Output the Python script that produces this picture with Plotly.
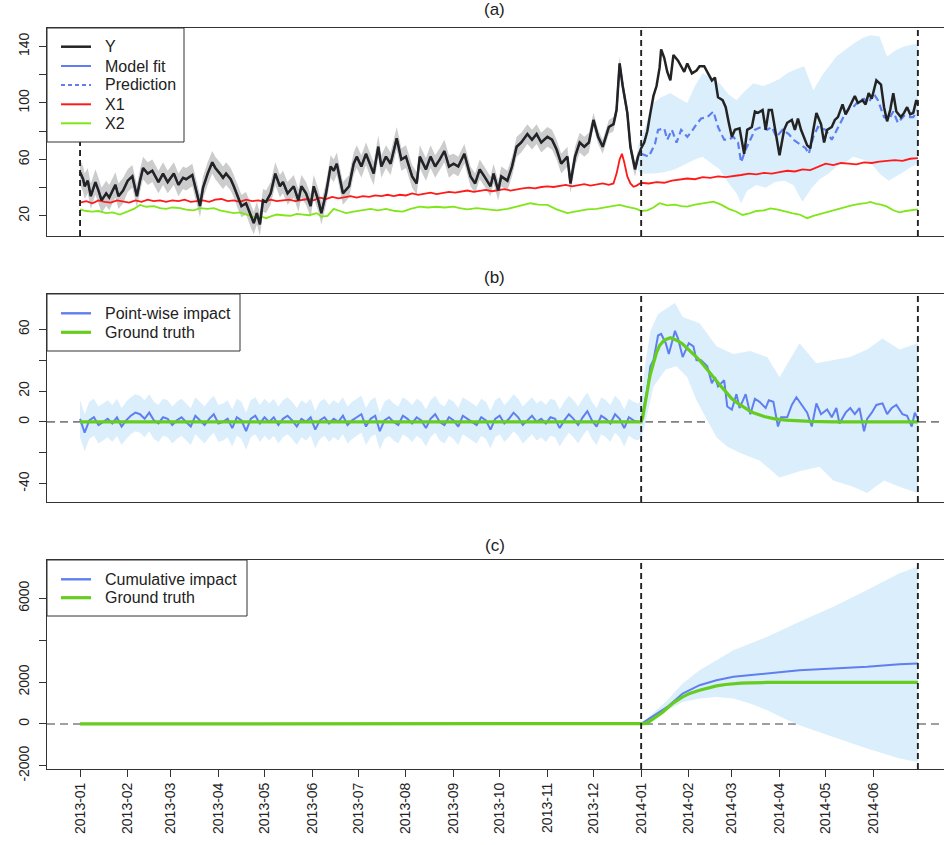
import pandas as pd
import plotly.graph_objects as go

START = pd.Timestamp("2013-01-01")


def to_dates(days):
    return [START + pd.Timedelta(days=float(v)) for v in days]


# ---------------- panel (a) ----------------
y_days = [0, 2, 3, 5, 7, 10, 12, 14, 17, 19,
          23, 25, 28, 31, 34, 37, 39, 41, 44, 47,
          51, 54, 57, 61, 64, 67, 69, 73, 76, 78,
          80, 83, 86, 88, 91, 93, 95, 98, 100, 103,
          105, 108, 111, 113, 115, 117, 119, 121, 124, 127,
          130, 132, 135, 139, 142, 144, 147, 150, 152, 155,
          157, 160, 163, 165, 167, 171, 175, 178, 180, 183,
          186, 189, 191, 194, 196, 199, 202, 206, 209, 212,
          216, 219, 221, 225, 228, 231, 234, 237, 240, 243,
          246, 250, 254, 257, 260, 263, 267, 269, 272, 274,
          278, 281, 284, 287, 291, 294, 297, 300, 304, 307,
          310, 313, 317, 319, 322, 325, 328, 331, 334, 337,
          340, 344, 347, 349, 351, 353, 356, 358, 360, 361,
          363, 365, 367, 369, 371, 373, 375, 377, 378, 380,
          382, 384, 386, 389, 391, 393, 395, 398, 401, 403,
          406, 409, 411, 413, 415, 418, 420, 422, 424, 426,
          429, 432, 434, 437, 439, 441, 444, 446, 448, 450,
          452, 455, 458, 460, 463, 465, 467, 469, 473, 475,
          477, 479, 482, 484, 486, 489, 491, 493, 496, 498,
          500, 502, 504, 506, 509, 511, 513, 515, 518, 521,
          523, 525, 527, 529, 531, 534, 536, 538, 540, 542,
          544, 545]
y_vals = [51, 46, 41, 45, 34, 44, 38, 31, 36, 33,
          42, 34, 38, 45, 48, 34, 45, 54, 50, 52,
          44, 50, 44, 50, 42, 47, 46, 49, 36, 27,
          40, 50, 58, 54, 50, 47, 50, 46, 41, 32,
          27, 29, 20, 15, 22, 14, 31, 30, 36, 50,
          41, 44, 36, 41, 31, 41, 36, 27, 41, 31,
          22, 36, 55, 52, 57, 36, 41, 57, 62, 55,
          64, 55, 50, 69, 55, 62, 57, 75, 60, 62,
          48, 43, 62, 53, 62, 55, 60, 66, 55, 57,
          55, 64, 48, 43, 53, 48, 41, 50, 38, 48,
          45, 55, 69, 72, 78, 74, 78, 72, 76, 74,
          67, 57, 62, 43, 62, 72, 69, 72, 88, 76,
          69, 83, 85, 95, 128, 112, 93, 69, 57, 53,
          62, 68, 72, 80, 93, 105, 112, 125, 138, 132,
          122, 116, 134, 130, 126, 122, 128, 121, 123, 126,
          126, 120, 116, 118, 104, 102, 97, 86, 76, 81,
          82, 64, 81, 83, 94, 93, 95, 81, 95, 95,
          81, 63, 81, 86, 88, 81, 89, 81, 70, 68,
          81, 93, 85, 72, 81, 83, 88, 90, 99, 92,
          96, 101, 105, 100, 102, 99, 107, 103, 116, 113,
          97, 87, 95, 107, 94, 90, 93, 97, 92, 93,
          102, 99]

# half-width of the grey pre-period interval, per month of 2013
pre_band_halfwidth = [9, 8, 8, 8, 8, 8, 8, 8, 7, 7, 7, 5]

pred_days = [365, 368, 370, 374, 376, 380, 382, 385, 388, 391, 395, 398, 401, 404,
             408, 412, 415, 419, 422, 425, 428, 430, 433, 436, 439, 443, 447, 450,
             453, 457, 461, 464, 468, 472, 474, 477, 480, 485, 489, 493, 497, 500,
             503, 506, 510, 513, 516, 519, 523, 526, 529, 532, 536, 539, 542, 545]
pred_vals = [64, 63, 62, 71, 81, 82, 74, 81, 72, 81, 76, 80, 85, 89,
             90, 94, 83, 74, 74, 76, 72, 58, 67, 74, 81, 83, 81, 83,
             76, 81, 78, 74, 71, 68, 64, 76, 83, 81, 74, 83, 91, 96,
             97, 101, 103, 100, 107, 102, 90, 88, 94, 86, 91, 90, 90, 95]

post_up_days = [363, 365, 370, 373, 378, 384, 390, 395, 400, 405, 410, 416, 422, 427,
                432, 438, 444, 449, 455, 460, 466, 471, 477, 483, 492, 497, 503, 509,
                514, 520, 525, 530, 536, 540, 545]
post_up_vals = [70, 74, 92, 100, 104, 107, 103, 100, 112, 121, 118, 114, 106, 102,
                108, 114, 112, 114, 117, 121, 124, 126, 109, 120, 133, 137, 142, 146,
                148, 147, 133, 137, 140, 141, 142]
post_lo_days = [363, 365, 373, 380, 387, 394, 400, 405, 411, 416, 422, 427, 430, 434,
                440, 446, 452, 458, 464, 470, 476, 481, 487, 492, 498, 503, 509, 514,
                520, 526, 532, 537, 541, 545]
post_lo_vals = [52, 50, 50, 51, 53, 57, 60, 62, 57, 53, 43, 36, 29, 38,
                42, 40, 44, 45, 42, 30, 40, 46, 50, 55, 58, 62, 60, 58,
                50, 45, 49, 52, 55, 57]

x1_days = [0, 4, 8, 12, 16, 20, 24, 28, 32, 36, 40, 44, 48, 52, 56, 60, 64, 68, 72, 76,
           80, 84, 88, 92, 96, 100, 104, 108, 112, 116, 120, 124, 128, 132, 136, 140,
           144, 148, 152, 156, 160, 164, 168, 172, 176, 180, 184, 188, 192, 196, 200,
           204, 208, 212, 216, 220, 224, 228, 232, 236, 240, 244, 248, 252, 256, 260,
           264, 268, 272, 276, 280, 284, 288, 292, 296, 300, 304, 308, 312, 316, 320,
           324, 328, 332, 336, 340, 344, 347, 349, 351, 352.5, 354, 356, 358, 360, 362,
           365, 370, 375, 380, 385, 390, 395, 400, 405, 410, 415, 420, 425, 430, 435,
           440, 445, 450, 455, 460, 465, 470, 475, 480, 485, 490, 495, 500, 505, 510,
           515, 520, 525, 530, 535, 540, 545]
x1_vals = [29.5, 30.5, 29, 31, 30, 29.5, 31, 30, 29.5, 31, 30, 31.5, 30.5, 31, 30, 31,
           30.5, 31.5, 30, 30.5, 31, 30, 31.5, 32, 30.5, 31, 30, 31.5, 30.5, 31, 30,
           31.5, 30.5, 31, 31.5, 30.5, 31.5, 32, 31, 33, 32, 33.5, 32.5, 33, 34, 33,
           34, 33.5, 34.5, 34, 35, 34, 35, 34.5, 36, 35, 35.5, 36.5, 35.5, 36, 37,
           36.5, 37, 38, 37, 37.5, 38.5, 37.5, 38, 39, 38, 39, 39.5, 40, 39.5, 40.5,
           41, 40.5, 41, 42, 41, 41.5, 42.5, 41.5, 42, 43, 42, 43, 50, 60, 64, 58,
           48, 43, 40.7, 41.5, 43.5, 43, 44, 43.5, 45, 45.5, 46.5, 46, 47.5, 47, 48,
           47.5, 48, 49, 50, 49.5, 50.5, 50, 51, 52, 51.5, 53, 52.5, 55, 57, 56, 57.5,
           57, 56.5, 58, 57.5, 58.5, 59, 59.5, 59, 60.5, 61]

x2_days = [0, 4, 8, 12, 17, 21, 26, 30, 35, 39, 43, 48, 52, 56, 60, 65, 69, 74, 78, 83,
           87, 91, 95, 100, 104, 108, 112, 115, 118, 121, 125, 128, 132, 137, 141, 145,
           149, 154, 157, 161, 165, 169, 173, 178, 183, 189, 194, 199, 205, 210, 215,
           221, 226, 232, 237, 243, 247, 252, 258, 265, 271, 278, 283, 288, 293, 298,
           304, 310, 314, 317, 322, 326, 330, 336, 341, 346, 351, 356, 362, 365, 369,
           373, 377, 382, 387, 391, 395, 400, 405, 409, 412, 417, 422, 427, 431, 436,
           440, 445, 449, 454, 459, 463, 468, 473, 477, 482, 487, 492, 497, 502, 507,
           511, 514, 518, 521, 525, 529, 533, 537, 541, 545]
x2_vals = [24.7, 23.5, 23, 23.5, 22, 22.5, 21, 23, 25, 27.8, 26.5, 27, 25.5, 25, 26,
           25.5, 24.5, 24, 25.5, 25, 25.5, 24, 23, 22, 22.5, 21, 20, 18.5, 19.5, 18.4,
           20, 21, 20.5, 20, 21.5, 21, 20.5, 22, 19.5, 20, 25, 23.5, 22, 23, 24, 25,
           24, 25, 23.5, 23, 25, 26.6, 26, 26.5, 26, 26.6, 25.5, 24.7, 25.5, 24.7, 24,
           25, 26.5, 28, 29, 28, 27.8, 24.7, 23, 22, 23, 24, 24.7, 25, 26, 27, 27.8,
           26.5, 25, 23.5, 24, 26, 29, 27.5, 28, 27, 26.6, 28, 29, 29.5, 30.1, 28, 25,
           23, 20.7, 22, 23.5, 24, 25.4, 24.5, 23, 22, 21, 18.4, 20, 21.5, 23, 24.7,
           26, 27.5, 28.5, 29, 30, 28.5, 28, 26.6, 24, 22.5, 23.5, 24, 24.7]

# ---------------- panel (b) ----------------
pw_pre_days = list(range(0, 364, 3))
pw_pre_vals = [2, -7, 1, 3, -2, 0, 2, -1, 3, -3, 1, 4, 6, 5, 2, 6, 1, -1, 3, 2, -2,
               1, 3, 0, -3, 4, 1, -2, 2, 5, -1, 0, 2, -4, 3, 1, -6, 2, 4, -1, 3,
               0, 3, -2, 2, 4, 1, -3, 2, 0, 3, -5, 1, 3, -1, 2, 0, 4, -2, 1, 3,
               5, -3, 2, 4, -6, 1, 3, 0, -2, 4, 2, -1, 3, 1, -4, 2, 5, 0, -2, 3,
               1, -3, 4, 2, 0, -2, 3, 1, -5, 2, 4, -1, 2, 6, 3, -2, 1, 4, 0, 2,
               -1, 3, 2, -4, 1, 5, 2, -2, 3, 7, 1, -3, 4, 2, -1, 5, 2, -4, 3, 1, 0]
pw_pre_halfwidth = 12

pw_post_days = [365, 369, 371, 373, 376, 378, 381, 383, 385, 387, 389, 392, 396, 399,
                401, 404, 408, 411, 413, 415, 419, 421, 424, 427, 429, 433, 436, 439,
                442, 446, 448, 451, 454, 456, 460, 463, 466, 470, 473, 476, 479, 482,
                486, 489, 492, 494, 498, 501, 504, 507, 510, 512, 515, 518, 522, 525,
                528, 531, 535, 538, 541, 543, 545]
pw_post_vals = [0, 21, 36, 40, 56, 57, 51, 44, 51, 59, 54, 42, 51, 49,
                40, 40, 36, 25, 29, 23, 27, 10, 8, 18, 9, 18, 5, 15,
                13, 9, 14, 13, -3, 3, 3, 11, 16, 10, 6, -3, 12, 5,
                8, 3, 9, -1, 6, 9, 5, 9, -6, 2, 6, 11, 12, 5,
                9, 11, 5, 4, -3, 6, 2]

pw_up_days = [363, 365, 368, 371, 376, 387, 392, 403, 414, 425, 436, 447, 455, 468,
              479, 490, 501, 512, 522, 533, 545]
pw_up_vals = [12, 14, 40, 59, 70, 77, 68, 64, 49, 44, 46, 42, 29, 51,
              38, 40, 42, 47, 54, 47, 51]
pw_lo_days = [363, 365, 367, 373, 381, 388, 395, 401, 408, 414, 421, 429, 442, 455,
              468, 481, 490, 503, 512, 523, 533, 545]
pw_lo_vals = [-12, -10, -4, 23, 34, 36, 29, 14, 1, -10, -16, -20, -25, -36,
              -32, -29, -38, -42, -46, -38, -42, -46]

truth_days = [0, 365, 366, 367, 368, 369, 370, 371, 373, 375, 377, 380, 384, 388, 392,
              396, 400, 403, 407, 410, 414, 417, 421, 424, 428, 431, 435, 438, 442,
              445, 449, 452, 459, 466, 475, 490, 545]
truth_vals = [0, 0, 3, 8, 14, 20, 26, 31, 38, 45, 49.5, 53, 54.5, 53, 50.5,
              47, 43, 40, 35, 31, 26.4, 23, 18.5, 15, 12, 10, 7.5, 6, 4.5,
              3.5, 2.6, 2, 1.2, 0.6, 0.3, 0.05, 0]

# ---------------- panel (c) ----------------
cum_days = [0, 365, 382, 392, 403, 414, 425, 436, 447, 458, 468, 490, 512, 533, 545]
cum_vals = [0, 0, 813, 1455, 1852, 2091, 2249, 2329, 2411, 2490, 2569, 2648, 2728, 2856, 2888]
cum_up_days = [365, 382, 392, 403, 425, 447, 468, 490, 512, 533, 545]
cum_up_vals = [0, 1134, 1933, 2569, 3526, 4163, 4880, 5598, 6397, 7196, 7512]
cum_lo_days = [365, 382, 392, 403, 414, 425, 436, 447, 458, 468, 490, 512, 533, 545]
cum_lo_vals = [0, 655, 1053, 1215, 1292, 1215, 976, 655, 258, -62, -622, -1177, -1655, -1818]
cum_truth_days = [0, 365, 367, 369, 371, 373, 375, 377, 379, 382, 386, 392, 397, 403,
                  408, 414, 420, 425, 430, 436, 447, 545]
cum_truth_vals = [0, 0, 15, 50, 150, 240, 340, 450, 560, 760, 1010, 1292, 1470, 1612,
                  1720, 1818, 1885, 1933, 1952, 1965, 1981, 1985]

month_ticks = pd.date_range("2013-01-01", "2014-06-01", freq="MS")
month_labels = [t.strftime("%Y-%m") for t in month_ticks]

# ---------------- styling ----------------
FONT = "Liberation Sans, Arial, sans-serif"
BLACK = "#232323"
BLUE = "#5f7ff0"
RED = "#ff1a1a"
GREEN = "#80e61a"
TRUTH = "#66cc1f"
GREY_BAND = "#cccccc"
BLUE_BAND = "#dbeefc"
AX = "#333333"
TXT = "#222222"

W, H = 944, 845
ML, MR, MT, MB = 47, 0, 28, 76
PW, PH = W - ML - MR, H - MT - MB


def px_x(px):
    return (px - ML) / PW


def px_y(py):
    return (H - MB - py) / PH


fig = go.Figure()


def band(days_up, up, days_lo, lo, color, xa, ya):
    xs = to_dates(days_up) + to_dates(days_lo)[::-1]
    ys = list(up) + list(lo)[::-1]
    return go.Scatter(x=xs, y=ys, fill="toself", fillcolor=color, line=dict(width=0),
                      mode="lines", hoverinfo="skip", showlegend=False, xaxis=xa, yaxis=ya)


def line(days, vals, color, width, xa, ya, dash=None):
    return go.Scatter(x=to_dates(days), y=vals, mode="lines", showlegend=False,
                      line=dict(color=color, width=width, dash=dash), xaxis=xa, yaxis=ya)


# panel (a)
pre_idx = [i for i, dd in enumerate(y_days) if dd < 365]
pre_days = [y_days[i] for i in pre_idx]
pre_fit = [y_vals[i] for i in pre_idx]
pre_hw = [pre_band_halfwidth[(START + pd.Timedelta(days=dd)).month - 1] for dd in pre_days]
fig.add_trace(band(pre_days, [v + h for v, h in zip(pre_fit, pre_hw)],
                   pre_days, [v - h for v, h in zip(pre_fit, pre_hw)], GREY_BAND, "x", "y"))
fig.add_trace(band(post_up_days, post_up_vals, post_lo_days, post_lo_vals, BLUE_BAND, "x", "y"))
fig.add_trace(line(x1_days, x1_vals, RED, 1.8, "x", "y"))
fig.add_trace(line(x2_days, x2_vals, GREEN, 1.8, "x", "y"))
fig.add_trace(line(pre_days, pre_fit, BLUE, 2, "x", "y"))
fig.add_trace(line(pred_days, pred_vals, BLUE, 2.2, "x", "y", dash="7px,4px"))
fig.add_trace(line(y_days, y_vals, BLACK, 2.5, "x", "y"))

# panel (b)
fig.add_trace(band(pw_pre_days, [v + pw_pre_halfwidth for v in pw_pre_vals],
                   pw_pre_days, [v - pw_pre_halfwidth for v in pw_pre_vals], BLUE_BAND, "x2", "y2"))
fig.add_trace(band(pw_up_days, pw_up_vals, pw_lo_days, pw_lo_vals, BLUE_BAND, "x2", "y2"))
fig.add_trace(line(pw_pre_days + pw_post_days, pw_pre_vals + pw_post_vals, BLUE, 2, "x2", "y2"))
fig.add_trace(line(truth_days, truth_vals, TRUTH, 3.2, "x2", "y2"))

# panel (c)
fig.add_trace(band(cum_up_days, cum_up_vals, cum_lo_days, cum_lo_vals, BLUE_BAND, "x3", "y3"))
fig.add_trace(line(cum_days, cum_vals, BLUE, 2, "x3", "y3"))
fig.add_trace(line(cum_truth_days, cum_truth_vals, TRUTH, 3.2, "x3", "y3"))

# ---------------- layout ----------------
x_range = [START - pd.Timedelta(days=21.5), START + pd.Timedelta(days=562)]

common_x = dict(type="date", range=x_range, showgrid=False, zeroline=False, showline=True,
                linecolor=AX, linewidth=1, mirror=True, tickvals=list(month_ticks),
                ticktext=month_labels)


def yaxis(top, bot, rng, vals, texts, anchor):
    return dict(domain=[px_y(bot), px_y(top)], range=rng, showgrid=False, zeroline=False,
                showline=True, linecolor=AX, linewidth=1, ticks="outside", ticklen=7,
                tickcolor=AX, tickvals=vals, ticktext=texts, tickangle=-90,
                ticklabelstandoff=4, tickfont=dict(family=FONT, size=14, color=TXT),
                anchor=anchor)


ya = yaxis(28, 236, [5.8, 153.1], [20, 40, 60, 80, 100, 120, 140],
           ["20", "", "60", "", "100", "", "140"], "x")
yb = yaxis(294, 502, [-51.9, 82.9], [-40, -20, 0, 20, 40, 60],
           ["-40", "", "0", "20", "", "60"], "x2")
yc = yaxis(560, 769, [-2153, 7832], [-2000, 0, 2000, 4000, 6000],
           ["-2000", "0", "2000", "", "6000"], "x3")

xa = dict(common_x, anchor="y", showticklabels=False, ticks="")
xb = dict(common_x, anchor="y2", showticklabels=False, ticks="", matches="x")
xc = dict(common_x, anchor="y3", ticks="outside", ticklen=7, tickcolor=AX, tickangle=-90,
          tickfont=dict(family=FONT, size=14, color=TXT), matches="x")

shapes = []
for ax, yr in (("x2", "y2"), ("x3", "y3")):
    shapes.append(dict(type="line", xref=ax + " domain", yref=yr, x0=0, x1=1, y0=0, y1=0,
                       line=dict(color="#808080", width=1.6, dash="8px,5px"), layer="below"))
for ax, yr, days in (("x", "y", [0, 365, 545]), ("x2", "y2", [365, 545]), ("x3", "y3", [365, 545])):
    for dd in days:
        t = START + pd.Timedelta(days=dd)
        shapes.append(dict(type="line", xref=ax, yref=yr + " domain", x0=t, x1=t, y0=0, y1=1,
                           line=dict(color="#222", width=1.9, dash="6px,4px")))

annotations = []

# legends (drawn as boxes, sample lines and labels)
legend_specs = [
    (28, 142, 184, [("Y", BLACK, 2.5, None, 46.7), ("Model fit", BLUE, 2, None, 66),
                    ("Prediction", BLUE, 2, "4px,3px", 85), ("X1", RED, 2, None, 104.3),
                    ("X2", GREEN, 2, None, 123.3)]),
    (294, 351, 240, [("Point-wise impact", BLUE, 2.4, None, 313.3),
                     ("Ground truth", TRUTH, 3.2, None, 332.3)]),
    (560, 616, 247, [("Cumulative impact", BLUE, 2.4, None, 579.3),
                     ("Ground truth", TRUTH, 3.2, None, 597.7)]),
]
for top, bot, right, items in legend_specs:
    shapes.append(dict(type="rect", xref="paper", yref="paper", x0=px_x(47), x1=px_x(right),
                       y0=px_y(bot), y1=px_y(top), fillcolor="white",
                       line=dict(color=AX, width=1), layer="above"))
    for label, color, width, dash, cy in items:
        shapes.append(dict(type="line", xref="paper", yref="paper", x0=px_x(61), x1=px_x(91),
                           y0=px_y(cy), y1=px_y(cy), layer="above",
                           line=dict(color=color, width=width, dash=dash)))
        annotations.append(dict(text=label, xref="paper", yref="paper", x=px_x(103),
                                y=px_y(cy), xanchor="left", yanchor="middle", showarrow=False,
                                font=dict(family=FONT, size=16, color=TXT)))

for txt, cy in (("(a)", 10), ("(b)", 277), ("(c)", 545)):
    annotations.append(dict(text=txt, xref="paper", yref="paper", x=px_x(494.5),
                            y=px_y(cy), xanchor="center", yanchor="middle",
                            showarrow=False, font=dict(family=FONT, size=17, color=TXT)))

fig.update_layout(
    width=W, height=H, margin=dict(l=ML, r=MR, t=MT, b=MB, autoexpand=False),
    paper_bgcolor="white", plot_bgcolor="white",
    font=dict(family=FONT, size=14, color=TXT),
    xaxis=xa, xaxis2=xb, xaxis3=xc, yaxis=ya, yaxis2=yb, yaxis3=yc,
    shapes=shapes, annotations=annotations, showlegend=False,
)

fig.write_html("out.html", config={"displayModeBar": False},
               post_script="document.body.style.margin='0';")
